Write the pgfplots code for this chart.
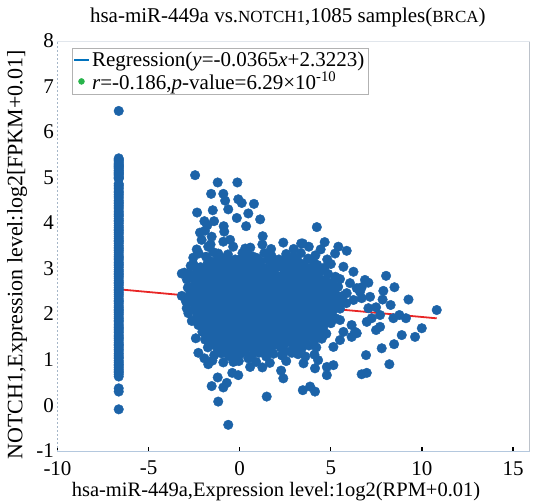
\documentclass[border=0pt]{standalone}
\usepackage{fontspec}
\setmainfont{Liberation Serif}
\usepackage{pgfplots}
\usepackage{pgfplotstable}
\pgfplotsset{compat=1.18}
\definecolor{dot}{RGB}{28,99,168}
\definecolor{regred}{RGB}{232,38,38}
\definecolor{legblue}{RGB}{0,114,189}
\definecolor{leggreen}{RGB}{40,180,75}
\definecolor{botline}{RGB}{180,200,222}
\definecolor{leftline}{RGB}{165,182,200}
\definecolor{topline}{RGB}{225,230,236}
\definecolor{rightline}{RGB}{188,194,202}

\pgfplotstableread{
x y
-6.64 6.48
-6.64 5.44
-6.64 5.41
-6.64 5.39
-6.64 5.36
-6.64 5.33
-6.64 5.30
-6.64 5.28
-6.64 5.26
-6.64 5.24
-6.64 5.21
-6.64 5.18
-6.64 5.16
-6.64 5.13
-6.64 5.11
-6.64 5.09
-6.64 5.06
-6.64 5.03
-6.64 5.01
-6.64 4.99
-6.64 4.88
-6.64 4.85
-6.64 4.81
-6.64 4.77
-6.64 4.72
-6.64 4.69
-6.64 4.65
-6.64 4.61
-6.64 4.57
-6.64 4.52
-6.64 4.48
-6.64 4.45
-6.64 4.41
-6.64 4.37
-6.64 4.33
-6.64 4.28
-6.64 4.24
-6.64 4.20
-6.64 4.17
-6.64 4.12
-6.64 4.08
-6.64 4.05
-6.64 4.01
-6.64 3.96
-6.64 3.92
-6.64 3.88
-6.64 3.85
-6.64 3.81
-6.64 3.77
-6.64 3.72
-6.64 3.68
-6.64 3.64
-6.64 3.61
-6.64 3.57
-6.64 3.52
-6.64 3.48
-6.64 3.45
-6.64 3.41
-6.64 3.37
-6.64 3.32
-6.64 3.28
-6.64 3.25
-6.64 3.21
-6.64 3.16
-6.64 3.12
-6.64 3.09
-6.64 3.05
-6.64 3.00
-6.64 2.96
-6.64 2.92
-6.64 2.89
-6.64 2.85
-6.64 2.81
-6.64 2.76
-6.64 2.72
-6.64 2.69
-6.64 2.65
-6.64 2.60
-6.64 2.56
-6.64 2.53
-6.64 2.49
-6.64 2.45
-6.64 2.41
-6.64 2.36
-6.64 2.32
-6.64 2.29
-6.64 2.25
-6.64 2.20
-6.64 2.16
-6.64 2.12
-6.64 2.09
-6.64 2.05
-6.64 2.01
-6.64 1.96
-6.64 1.92
-6.64 1.88
-6.64 1.85
-6.64 1.80
-6.64 1.76
-6.64 1.72
-6.64 1.69
-6.64 1.65
-6.64 1.61
-6.64 1.56
-6.64 1.52
-6.64 1.49
-6.64 1.45
-6.64 1.40
-6.64 1.36
-6.64 1.33
-6.64 1.29
-6.64 1.25
-6.64 1.21
-6.64 1.16
-6.64 1.12
-6.64 1.08
-6.64 1.05
-6.64 1.00
-6.64 0.96
-6.64 0.92
-6.64 0.89
-6.64 0.85
-6.64 0.81
-6.64 0.77
-6.64 0.74
-6.64 0.70
-6.64 0.65
-6.64 0.39
-6.64 0.32
-6.64 -0.07
}\column

\pgfplotstableread{
x y
-2.45 5.07
-1.21 4.91
-0.13 4.91
-1.57 4.66
-0.90 4.66
-0.80 4.51
-0.63 4.32
-0.08 4.54
0.11 4.46
0.78 4.44
-2.34 4.25
-1.48 4.30
-0.16 4.13
0.47 4.23
1.12 4.10
0.35 3.95
-1.94 4.06
-1.78 3.97
-1.41 4.06
-2.18 3.81
-2.09 3.65
-1.54 3.72
-0.85 3.83
-0.53 3.65
-0.90 3.61
1.26 3.73
1.24 3.55
-2.36 3.44
-2.55 3.26
-2.69 3.08
-3.04 2.93
-3.18 2.91
2.39 3.59
3.37 3.57
0.30 3.46
0.75 3.28
-1.73 3.50
-1.18 3.35
4.23 3.93
4.66 3.60
4.44 3.44
5.41 3.50
5.87 3.41
5.23 3.35
3.46 3.57
4.04 3.17
4.40 3.02
5.69 3.06
6.24 2.95
8.03 2.86
7.06 2.71
6.69 2.61
8.49 2.61
7.88 2.53
7.84 2.34
9.26 2.34
8.28 2.22
10.81 2.11
7.48 2.17
7.70 2.00
8.43 1.93
8.76 2.00
9.12 1.93
7.06 2.15
7.24 1.93
6.97 1.85
7.70 1.74
7.48 1.67
9.99 1.71
9.62 1.52
8.89 1.56
8.47 1.36
7.79 1.27
6.93 1.12
8.21 0.92
6.69 0.70
6.97 0.73
6.14 1.78
6.33 1.63
6.14 1.52
6.42 1.60
5.69 1.63
5.50 1.45
5.14 1.30
5.14 0.90
4.78 0.86
4.78 0.68
4.13 0.83
3.86 0.43
4.13 0.32
3.46 0.35
5.04 2.00
5.50 1.89
5.14 2.26
6.69 2.37
6.60 2.51
7.15 2.40
6.05 2.70
6.42 2.59
6.87 2.77
5.87 2.48
6.24 2.33
-0.63 -0.41
-1.18 0.10
1.48 0.21
-1.54 0.44
-0.90 0.41
-0.71 0.51
-1.21 0.63
-0.41 0.73
-0.08 0.68
1.24 0.85
2.27 0.78
2.39 0.61
-2.27 1.17
-1.94 1.05
-1.73 0.92
-1.50 1.00
-2.41 1.49
-2.82 2.04
-2.91 2.15
-2.63 1.87
-2.27 1.78
-3.18 2.42
-1.35 1.41
-1.08 1.27
-0.63 1.30
-0.35 0.97
-0.16 1.12
0.47 1.05
0.57 0.86
2.86 1.17
2.31 1.12
-1.60 3.55
-0.36 3.50
0.58 3.48
1.72 3.45
2.96 3.45
3.79 3.50
-0.88 3.95
-1.91 3.85
-2.85 2.60
-2.95 2.30
-2.25 3.35
-1.85 3.28
-1.45 3.38
-1.05 3.26
-0.65 3.33
-0.25 3.22
0.15 3.36
0.55 3.30
0.95 3.25
1.35 3.36
1.75 3.29
2.15 3.22
2.55 3.34
2.95 3.28
3.35 3.36
3.75 3.24
4.15 3.31
4.80 3.22
-2.55 3.12
-2.15 3.05
-1.75 3.15
-1.35 3.08
-0.95 3.14
-0.55 3.03
-0.15 3.12
0.25 3.06
0.65 3.15
1.05 3.08
1.45 3.02
1.85 3.13
2.25 3.07
2.65 3.14
3.05 3.05
3.45 3.12
3.85 3.02
4.25 3.10
4.65 3.04
5.00 3.12
-2.75 2.90
-2.35 2.96
-1.95 2.88
-1.55 2.94
-1.15 2.87
-0.75 2.97
-0.35 2.89
0.05 2.95
0.45 2.88
0.85 2.96
1.25 2.90
1.65 2.94
2.05 2.86
2.45 2.97
2.85 2.92
3.25 2.87
3.65 2.95
4.05 2.89
4.45 2.97
4.85 2.90
5.25 2.84
-2.90 2.78
-2.50 2.80
-2.10 2.74
-1.70 2.80
-1.30 2.76
-0.90 2.82
-0.50 2.74
-0.10 2.81
0.30 2.76
0.70 2.82
1.10 2.74
1.50 2.80
1.90 2.77
2.30 2.83
2.70 2.74
3.10 2.79
3.50 2.76
3.90 2.82
4.30 2.74
4.70 2.78
5.10 2.72
5.50 2.79
-2.60 2.62
-2.20 2.66
-1.80 2.60
-1.40 2.65
-1.00 2.61
-0.60 2.67
-0.20 2.59
0.20 2.65
0.60 2.60
1.00 2.66
1.40 2.58
1.80 2.63
2.20 2.67
2.60 2.59
3.00 2.64
3.40 2.60
3.80 2.66
4.20 2.58
4.60 2.63
5.00 2.57
5.40 2.62
-2.75 2.44
-2.35 2.49
-1.95 2.43
-1.55 2.48
-1.15 2.45
-0.75 2.50
-0.35 2.42
0.05 2.47
0.45 2.51
0.85 2.44
1.25 2.48
1.65 2.42
2.05 2.49
2.45 2.45
2.85 2.50
3.25 2.43
3.65 2.47
4.05 2.51
4.45 2.44
4.85 2.40
5.25 2.46
5.65 2.42
-2.60 2.28
-2.20 2.33
-1.80 2.26
-1.40 2.32
-1.00 2.29
-0.60 2.34
-0.20 2.27
0.20 2.31
0.60 2.25
1.00 2.33
1.40 2.28
1.80 2.32
2.20 2.26
2.60 2.30
3.00 2.34
3.40 2.27
3.80 2.31
4.20 2.25
4.60 2.29
5.00 2.24
5.45 2.30
5.85 2.26
-2.50 2.12
-2.10 2.17
-1.70 2.10
-1.30 2.16
-0.90 2.13
-0.50 2.18
-0.10 2.11
0.30 2.15
0.70 2.09
1.10 2.17
1.50 2.12
1.90 2.16
2.30 2.10
2.70 2.15
3.10 2.18
3.50 2.11
3.90 2.14
4.30 2.08
4.70 2.16
5.10 2.10
5.50 2.14
-2.35 1.96
-1.95 2.00
-1.55 1.94
-1.15 1.99
-0.75 1.96
-0.35 2.01
0.05 1.94
0.45 1.98
0.85 1.93
1.25 2.00
1.65 1.95
2.05 1.99
2.45 1.93
2.85 1.98
3.25 2.01
3.65 1.94
4.05 1.97
4.45 1.92
4.85 1.98
5.25 1.93
-2.20 1.80
-1.80 1.84
-1.40 1.78
-1.00 1.83
-0.60 1.80
-0.20 1.85
0.20 1.78
0.60 1.82
1.00 1.76
1.40 1.84
1.80 1.79
2.20 1.83
2.60 1.77
3.00 1.82
3.40 1.85
3.80 1.78
4.20 1.81
4.60 1.76
5.00 1.82
-2.05 1.63
-1.65 1.67
-1.25 1.61
-0.85 1.66
-0.45 1.63
-0.05 1.68
0.35 1.61
0.75 1.65
1.15 1.60
1.55 1.67
1.95 1.62
2.35 1.66
2.75 1.60
3.15 1.65
3.55 1.68
3.95 1.61
4.35 1.64
4.75 1.59
-1.90 1.46
-1.50 1.50
-1.10 1.44
-0.70 1.49
-0.30 1.47
0.10 1.52
0.50 1.45
0.90 1.49
1.30 1.43
1.70 1.50
2.10 1.46
2.50 1.51
2.90 1.44
3.30 1.48
3.70 1.52
4.10 1.45
4.50 1.48
-1.75 1.29
-1.35 1.33
-0.95 1.27
-0.55 1.32
-0.15 1.30
0.25 1.34
0.65 1.28
1.05 1.31
1.45 1.26
1.85 1.33
2.25 1.29
3.00 1.32
3.40 1.27
3.80 1.33
4.20 1.29
-1.40 1.12
-1.00 1.16
-0.60 1.10
0.05 1.15
0.65 1.11
1.05 1.17
1.45 1.09
1.85 1.15
2.35 1.11
3.20 1.14
3.60 1.09
4.10 1.13
-0.90 0.96
-0.05 0.99
0.90 0.97
1.65 0.95
2.55 0.99
3.50 0.94
4.30 1.01
-1.65 3.19
-1.25 3.21
-0.85 3.20
-0.45 3.18
-0.05 3.21
0.35 3.19
0.75 3.20
1.15 3.18
1.55 3.21
1.95 3.19
2.35 3.20
2.75 3.18
3.15 3.21
-2.35 3.03
-1.95 3.02
-1.55 3.04
-1.15 3.03
-0.75 3.05
-0.35 3.02
0.05 3.04
0.45 3.03
0.85 3.01
1.25 3.04
1.65 3.03
2.05 3.05
2.45 3.02
2.85 3.04
3.25 3.03
3.65 3.05
4.05 3.02
-2.50 2.86
-2.10 2.85
-1.70 2.87
-1.30 2.86
-0.90 2.88
-0.50 2.85
-0.10 2.87
0.30 2.86
0.70 2.84
1.10 2.87
1.50 2.86
1.90 2.88
2.30 2.85
2.70 2.87
3.10 2.86
3.50 2.84
3.90 2.87
4.30 2.86
-2.40 2.70
-2.00 2.71
-1.60 2.69
-1.20 2.70
-0.80 2.72
-0.40 2.69
0.00 2.71
0.40 2.70
0.80 2.68
1.20 2.71
1.60 2.70
2.00 2.72
2.40 2.69
2.80 2.71
3.20 2.70
3.60 2.68
4.00 2.71
4.40 2.70
4.80 2.69
-2.40 2.54
-2.00 2.53
-1.60 2.55
-1.20 2.54
-0.80 2.52
-0.40 2.55
0.00 2.54
0.40 2.53
0.80 2.55
1.20 2.54
1.60 2.52
2.00 2.55
2.40 2.54
2.80 2.53
3.20 2.55
3.60 2.54
4.00 2.52
4.40 2.55
4.80 2.54
-2.40 2.38
-2.00 2.37
-1.60 2.39
-1.20 2.38
-0.80 2.36
-0.40 2.39
0.00 2.38
0.40 2.37
0.80 2.39
1.20 2.38
1.60 2.36
2.00 2.39
2.40 2.38
2.80 2.37
3.20 2.39
3.60 2.38
4.00 2.36
4.40 2.39
4.80 2.38
5.20 2.37
-2.30 2.22
-1.90 2.21
-1.50 2.23
-1.10 2.22
-0.70 2.20
-0.30 2.23
0.10 2.22
0.50 2.21
0.90 2.23
1.30 2.22
1.70 2.20
2.10 2.23
2.50 2.22
2.90 2.21
3.30 2.23
3.70 2.22
4.10 2.20
4.50 2.23
4.90 2.22
5.30 2.21
-2.15 2.06
-1.75 2.05
-1.35 2.07
-0.95 2.06
-0.55 2.04
-0.15 2.07
0.25 2.06
0.65 2.05
1.05 2.07
1.45 2.06
1.85 2.04
2.25 2.07
2.65 2.06
3.05 2.05
3.45 2.07
3.85 2.06
4.25 2.04
4.65 2.07
5.05 2.06
-2.00 1.89
-1.60 1.88
-1.20 1.90
-0.80 1.89
-0.40 1.87
0.00 1.90
0.40 1.89
0.80 1.88
1.20 1.90
1.60 1.89
2.00 1.87
2.40 1.90
2.80 1.89
3.20 1.88
3.60 1.90
4.00 1.89
4.40 1.87
4.80 1.89
-1.85 1.72
-1.45 1.71
-1.05 1.73
-0.65 1.72
-0.25 1.70
0.15 1.73
0.55 1.72
0.95 1.71
1.35 1.73
1.75 1.72
2.15 1.70
2.55 1.73
2.95 1.72
3.35 1.71
3.75 1.73
4.15 1.72
4.55 1.70
-1.70 1.55
-1.30 1.54
-0.90 1.56
-0.50 1.55
-0.10 1.53
0.30 1.56
0.70 1.55
1.10 1.54
1.50 1.56
1.90 1.55
2.30 1.53
2.70 1.56
3.10 1.55
3.50 1.54
3.90 1.56
4.30 1.55
-1.55 1.38
-1.15 1.37
-0.75 1.39
-0.35 1.38
0.05 1.36
0.45 1.39
0.85 1.38
1.25 1.37
1.65 1.39
2.05 1.38
2.45 1.36
2.85 1.39
3.25 1.38
3.65 1.37
-1.20 1.21
-0.80 1.20
-0.40 1.22
0.25 1.21
0.85 1.20
1.25 1.22
1.65 1.21
2.45 1.20
2.85 1.22
3.20 1.21
}\cloud

\pgfplotstableread{
x y
-6.64 2.5647
10.81 1.9277
}\regline

\begin{document}
\begin{tikzpicture}
\begin{axis}[
  name=ax,
  scale only axis,
  width=472pt, height=410pt,
  xmin=-10, xmax=15.9, ymin=-1, ymax=8,
  xtick={-10,-5,0,5,10,15},
  ytick={-1,0,1,2,3,4,5,6,7,8},
  xtick pos=left,
  ytick pos=left,
  tick align=inside,
  major tick length=5pt,
  xtick style={black, line width=1.2pt},
  ytick style={draw=none},
  axis line style={draw=none},
  clip=false,
  /pgf/number format/assume math mode=true,
  tick label style={font=\fontsize{21}{24}\selectfont},
  x tick label style={yshift=-6pt},
  y tick label style={yshift=1pt},
  title={hsa-miR-449a vs.{\fontsize{17}{20}\selectfont NOTCH1},1085 samples({\fontsize{17}{20}\selectfont BRCA})},
  title style={font=\fontsize{21}{24}\selectfont, at={(axis description cs:0.488,1)}, anchor=center, yshift=18pt},
  xlabel={hsa-miR-449a,Expression level:1og2(RPM+0.01)},
  xlabel style={font=\fontsize{20.5}{24}\selectfont, at={(axis description cs:0.463,0)}, anchor=center, yshift=-39.5pt},
  ylabel={NOTCH1,Expression level:log2[FPKM+0.01]},
  ylabel style={font=\fontsize{22}{24}\selectfont, at={(axis description cs:-0.0855,0.48)}, anchor=center},
  legend style={at={(rel axis cs:0.031,0.984)}, anchor=north west, draw=gray!60, fill=white,
    font=\fontsize{21}{23}\selectfont, inner sep=1.5pt, row sep=0pt, legend cell align=left},
]
\addlegendimage{legend image code/.code={\draw[color=legblue, line width=1.3pt] (0pt,0pt) -- (15pt,0pt);}}
\addlegendentry{Regression(\textit{y}=-0.0365\textit{x}+2.3223)}
\addlegendimage{legend image code/.code={\fill[leggreen] (7pt,0pt) circle (3pt);}}
\addlegendentry{\textit{r}=-0.186,\textit{p}-value=6.29×10\textsuperscript{-10}}

\addplot[forget plot, color=regred, line width=1.8pt] table[x=x,y=y] {\regline};
\addplot[forget plot, only marks, mark=*, mark size=4.8pt, color=dot, mark options={fill=dot, draw=dot}] table[x=x,y=y] {\column};
\addplot[forget plot, only marks, mark=*, mark size=4.8pt, color=dot, mark options={fill=dot, draw=dot}] table[x=x,y=y] {\cloud};

\draw[color=topline, line width=0.8pt] (rel axis cs:0,1) -- (rel axis cs:1,1);
\draw[color=rightline, line width=1.8pt] (rel axis cs:1,0) -- (rel axis cs:1,1);
\draw[color=leftline, line width=1pt, dash pattern=on 2pt off 2pt] (rel axis cs:0,0) -- (rel axis cs:0,1);
\draw[color=botline, line width=1.3pt] (rel axis cs:0,0) -- (rel axis cs:1,0);
\end{axis}
\pgfresetboundingbox
\path[use as bounding box] ([xshift=-57.5pt,yshift=-51.3pt]ax.south west) rectangle ([xshift=6.5pt,yshift=41.7pt]ax.north east);
\end{tikzpicture}
\end{document}
